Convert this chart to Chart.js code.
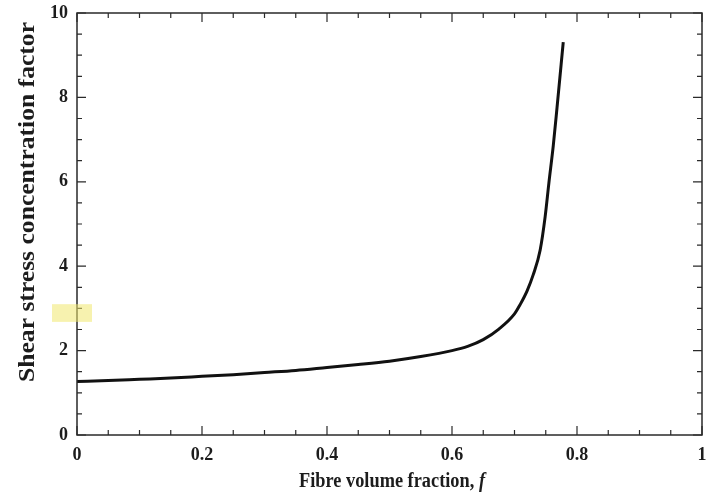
<!DOCTYPE html>
<html>
<head>
<meta charset="utf-8">
<script src="https://cdn.jsdelivr.net/npm/chart.js@4"></script>
<style>
  body { margin: 0; background: #fff; }
  #wrap { width: 713px; height: 500px; }
</style>
</head>
<body>
<div id="wrap"><canvas id="shear-plot"></canvas></div>
<script>
// values
var fibreFraction = [0, 0.05, 0.1, 0.15, 0.2, 0.25, 0.3, 0.35, 0.4, 0.45, 0.5, 0.55, 0.6, 0.625,
    0.65, 0.675, 0.7, 0.709, 0.72, 0.73, 0.741, 0.749, 0.755, 0.762, 0.768, 0.778];
var concentration = [1.27, 1.29, 1.32, 1.35, 1.39, 1.43, 1.48, 1.53, 1.6, 1.67, 1.75, 1.86, 2.0, 2.1,
    2.26, 2.51, 2.87, 3.09, 3.41, 3.8, 4.38, 5.17, 5.97, 6.85, 7.75, 9.31];

var xTickValues = [0, 0.2, 0.4, 0.6, 0.8, 1];
var xTickLabels = ['0', '0.2', '0.4', '0.6', '0.8', '1'];
var yTickValues = [0, 2, 4, 6, 8, 10];
var yTickLabels = ['0', '2', '4', '6', '8', '10'];

var xTitle = 'Fibre volume fraction, ';
var xTitleSymbol = 'f';
var yTitle = 'Shear stress concentration factor';

var serif = "'Liberation Serif', 'Times New Roman', serif";
var ink = '#1c1c1c';

// box, inward ticks, highlight and the two axis titles
var framePlugin = {
    id: 'frame',
    afterDraw: function (chart) {
        var ctx = chart.ctx, a = chart.chartArea;
        var x = chart.scales.x, y = chart.scales.y;
        ctx.save();
        ctx.strokeStyle = '#2a2a2a';
        ctx.lineWidth = 1.5;
        ctx.strokeRect(a.left, a.top, a.right - a.left, a.bottom - a.top);

        ctx.lineWidth = 1.2;
        ctx.beginPath();
        for (var i = 0; i <= 20; i++) {
            var px = x.getPixelForValue(i * 0.05);
            var len = i % 4 === 0 ? 9 : 5;
            ctx.moveTo(px, a.bottom); ctx.lineTo(px, a.bottom - len);
            ctx.moveTo(px, a.top); ctx.lineTo(px, a.top + len);
        }
        for (var j = 0; j <= 20; j++) {
            var py = y.getPixelForValue(j * 0.5);
            var len2 = j % 4 === 0 ? 9 : 5;
            ctx.moveTo(a.left, py); ctx.lineTo(a.left + len2, py);
            ctx.moveTo(a.right, py); ctx.lineTo(a.right - len2, py);
        }
        ctx.stroke();

        // yellow marker left of the axis
        var h1 = y.getPixelForValue(3.1), h2 = y.getPixelForValue(2.68);
        ctx.fillStyle = 'rgba(240, 232, 110, 0.55)';
        ctx.fillRect(a.left - 25, h1, 40, h2 - h1);

        ctx.fillStyle = ink;
        ctx.textBaseline = 'alphabetic';

        // x title, italic f
        var upright = 'bold 19px ' + serif, italic = 'italic bold 19px ' + serif;
        ctx.font = upright;
        var w1 = ctx.measureText(xTitle).width;
        ctx.font = italic;
        var w2 = ctx.measureText(xTitleSymbol).width;
        var sx = 186 / (w1 + w2);
        ctx.save();
        ctx.translate(392, 487);
        ctx.scale(sx, 1.15);
        ctx.font = upright;
        ctx.textAlign = 'left';
        ctx.fillText(xTitle, -(w1 + w2) / 2, 0);
        ctx.font = italic;
        ctx.fillText(xTitleSymbol, -(w1 + w2) / 2 + w1, 0);
        ctx.restore();

        // y title
        ctx.save();
        ctx.font = 'bold 24px ' + serif;
        var wy = ctx.measureText(yTitle).width;
        ctx.translate(34, 202);
        ctx.rotate(-Math.PI / 2);
        ctx.scale(360 / wy, 1);
        ctx.textAlign = 'center';
        ctx.fillText(yTitle, 0, 0);
        ctx.restore();

        ctx.restore();
    }
};

var points = fibreFraction.map(function (f, i) { return { x: f, y: concentration[i] }; });

var layout = {
    type: 'scatter',
    data: {
        datasets: [{
            data: points,
            showLine: true,
            borderColor: '#111',
            borderWidth: 3,
            pointRadius: 0,
            cubicInterpolationMode: 'monotone',
            fill: false
        }]
    },
    options: {
        responsive: true,
        maintainAspectRatio: false,
        animation: false,
        layout: { padding: { top: 13, right: 11, left: 0, bottom: 0 } },
        plugins: {
            legend: { display: false },
            tooltip: { enabled: false }
        },
        scales: {
            x: {
                type: 'linear',
                min: 0,
                max: 1,
                afterBuildTicks: function (scale) {
                    scale.ticks = xTickValues.map(function (v) { return { value: v }; });
                },
                afterFit: function (scale) {
                    scale.height = 65;
                    scale.paddingLeft = 0;
                    scale.paddingRight = 0;
                },
                grid: { display: false, drawTicks: false },
                border: { display: false },
                ticks: {
                    padding: 10,
                    color: ink,
                    font: { family: serif, size: 18, weight: 'bold' },
                    maxRotation: 0,
                    callback: function (v, i) { return xTickLabels[i]; }
                }
            },
            y: {
                type: 'linear',
                min: 0,
                max: 10,
                afterBuildTicks: function (scale) {
                    scale.ticks = yTickValues.map(function (v) { return { value: v }; });
                },
                afterFit: function (scale) {
                    scale.width = 77;
                    scale.paddingTop = 0;
                    scale.paddingBottom = 0;
                },
                grid: { display: false, drawTicks: false },
                border: { display: false },
                ticks: {
                    padding: 9,
                    color: ink,
                    font: { family: serif, size: 18, weight: 'bold' },
                    callback: function (v, i) { return yTickLabels[i]; }
                }
            }
        }
    },
    plugins: [framePlugin]
};

new Chart(document.getElementById('shear-plot'), layout);
</script>
</body>
</html>
